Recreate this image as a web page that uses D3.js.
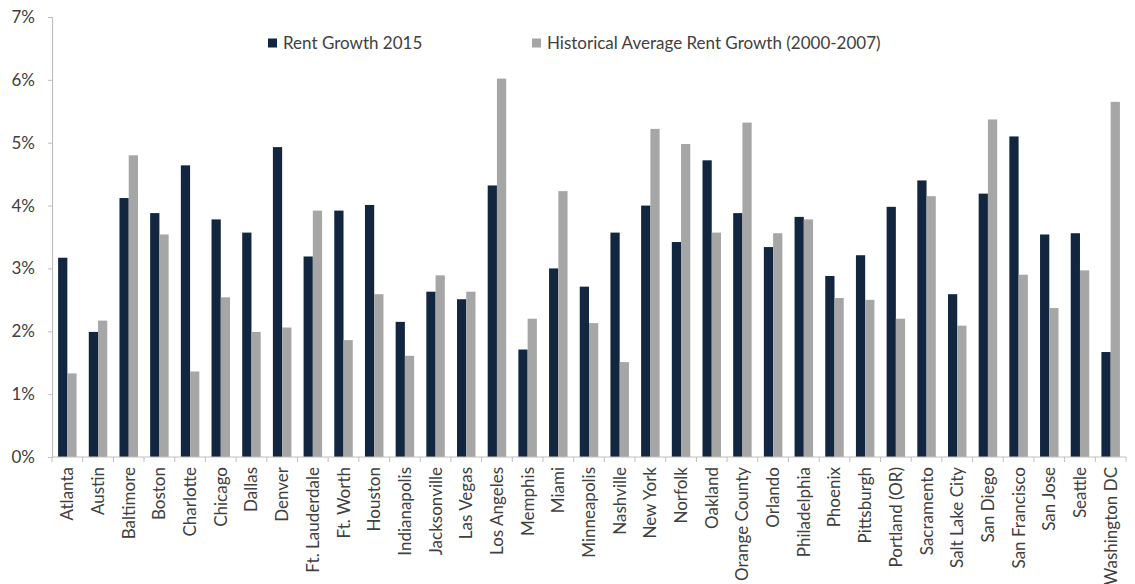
<!DOCTYPE html>
<html>
<head>
<meta charset="utf-8">
<script src="https://cdn.jsdelivr.net/npm/d3@7"></script>
<style>
  html, body { margin: 0; padding: 0; background: #fff; }
  svg text { font-family: Lato, "Liberation Sans", sans-serif; fill: #404040; }
</style>
</head>
<body>
<svg id="chart" width="1135" height="584"></svg>
<script>
// Metro areas along the x axis
const cities = [
  "Atlanta", "Austin", "Baltimore", "Boston", "Charlotte", "Chicago", "Dallas",
  "Denver", "Ft. Lauderdale", "Ft. Worth", "Houston", "Indianapolis",
  "Jacksonville", "Las Vegas", "Los Angeles", "Memphis", "Miami", "Minneapolis",
  "Nashville", "New York", "Norfolk", "Oakland", "Orange County", "Orlando",
  "Philadelphia", "Phoenix", "Pittsburgh", "Portland (OR)", "Sacramento",
  "Salt Lake City", "San Diego", "San Francisco", "San Jose", "Seattle",
  "Washington DC"
];

// Rent growth in 2015 (%)
const rentGrowth2015 = [
  3.17, 1.99, 4.12, 3.88, 4.64, 3.78, 3.57,
  4.93, 3.19, 3.92, 4.01, 2.15,
  2.63, 2.51, 4.32, 1.71, 3.00, 2.71,
  3.57, 4.00, 3.42, 4.72, 3.88, 3.34,
  3.82, 2.88, 3.21, 3.98, 4.40,
  2.59, 4.19, 5.10, 3.54, 3.56,
  1.67
];

// Historical average rent growth, 2000-2007 (%)
const historicalAvg = [
  1.33, 2.17, 4.80, 3.54, 1.36, 2.54, 1.99,
  2.06, 3.92, 1.86, 2.59, 1.61,
  2.89, 2.63, 6.02, 2.20, 4.23, 2.13,
  1.51, 5.22, 4.98, 3.57, 5.32, 3.56,
  3.78, 2.53, 2.50, 2.20, 4.15,
  2.09, 5.37, 2.90, 2.37, 2.97,
  5.65
];

const yTicks = [0, 1, 2, 3, 4, 5, 6, 7];

const seriesNames = ["Rent Growth 2015", "Historical Average Rent Growth (2000-2007)"];
const seriesColors = ["#12263f", "#a6a6a6"];

const rows = cities.map((c, i) => ({ city: c, values: [rentGrowth2015[i], historicalAvg[i]] }));

const svg = d3.select("#chart");
const plot = { left: 52, right: 1126, top: 17, bottom: 457 };
const axisColor = "#bfbfbf";
const fontSize = 17;

const x = d3.scaleBand().domain(cities).range([plot.left, plot.right]).paddingInner(0).paddingOuter(0);
const inner = d3.scaleBand().domain([0, 1]).range([0, x.bandwidth()]).paddingInner(0).paddingOuter(0.66);
const y = d3.scaleLinear().domain([0, 7]).range([plot.bottom, plot.top]);

// bars
const groups = svg.append("g").selectAll("g")
  .data(rows).join("g")
  .attr("transform", d => `translate(${x(d.city)},0)`);

groups.selectAll("rect")
  .data(d => d.values.map((v, k) => ({ v, k })))
  .join("rect")
  .attr("x", d => inner(d.k))
  .attr("width", inner.bandwidth())
  .attr("y", d => y(d.v))
  .attr("height", d => y(0) - y(d.v))
  .attr("fill", d => seriesColors[d.k]);

// y axis
const yAxis = svg.append("g")
  .attr("transform", `translate(${plot.left},0)`)
  .call(d3.axisLeft(y).tickValues(yTicks).tickFormat(d => d + "%").tickSize(4).tickPadding(13));
yAxis.select(".domain").attr("stroke", axisColor).attr("stroke-width", 1.2);
yAxis.selectAll(".tick line").attr("stroke", axisColor);
yAxis.selectAll(".tick text").attr("font-size", fontSize).attr("fill", "#404040");

// x axis baseline with ticks at band boundaries
const xg = svg.append("g");
xg.append("line")
  .attr("x1", plot.left).attr("x2", plot.right)
  .attr("y1", plot.bottom).attr("y2", plot.bottom)
  .attr("stroke", axisColor).attr("stroke-width", 1.2);
const boundaries = cities.map(c => x(c)).concat([plot.right]);
xg.selectAll("line.b")
  .data(boundaries).join("line")
  .attr("class", "b")
  .attr("x1", d => d).attr("x2", d => d)
  .attr("y1", plot.bottom).attr("y2", plot.bottom + 5)
  .attr("stroke", axisColor);

// rotated category labels
xg.selectAll("text")
  .data(cities).join("text")
  .attr("transform", d => `translate(${x(d) + x.bandwidth() / 2 + 6},${plot.bottom + 10}) rotate(-90)`)
  .attr("text-anchor", "end")
  .attr("font-size", fontSize)
  .text(d => d);

// legend
const legendX = [268, 532];
const legend = svg.append("g");
seriesNames.forEach((name, k) => {
  legend.append("rect")
    .attr("x", legendX[k]).attr("y", 38.5)
    .attr("width", 9).attr("height", 9)
    .attr("fill", seriesColors[k]);
  legend.append("text")
    .attr("x", legendX[k] + 15).attr("y", 48.5)
    .attr("font-size", fontSize)
    .text(name);
});
</script>
</body>
</html>
